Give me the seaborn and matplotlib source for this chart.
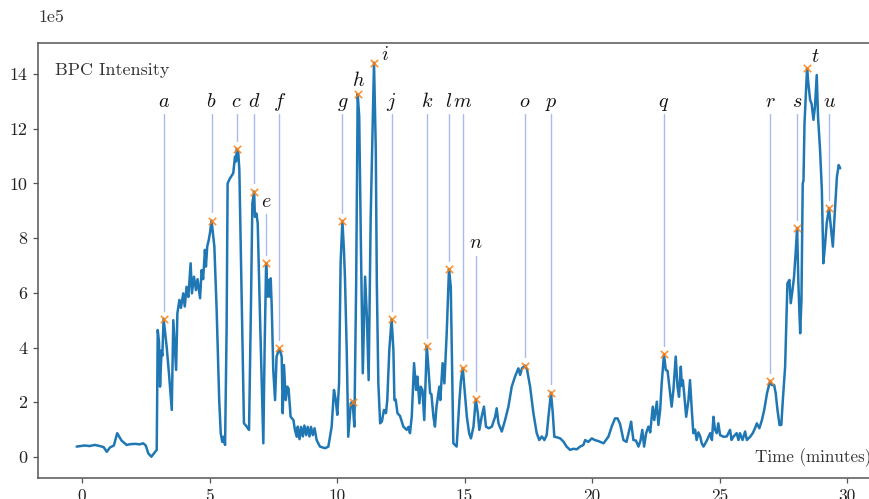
import matplotlib
matplotlib.use("Agg")
import matplotlib.pyplot as plt
import matplotlib.transforms as mtransforms
from matplotlib.ticker import ScalarFormatter
import numpy as np
import pandas as pd
import seaborn as sns

# Base peak chromatogram: retention time (minutes) and intensity (units of 1e5)
time_min = [
    -0.21, 0.10, 0.30, 0.50, 0.70, 0.85, 0.97, 1.10, 1.25, 1.38, 1.55, 1.75, 1.90, 2.10, 2.25,
    2.40, 2.50, 2.60, 2.72, 2.86, 2.93, 2.97, 3.02, 3.06, 3.12, 3.15, 3.20, 3.32, 3.42, 3.52,
    3.58, 3.69, 3.74, 3.82, 3.88, 3.97, 4.03, 4.10, 4.17, 4.26, 4.31, 4.39, 4.47, 4.53, 4.63,
    4.69, 4.75, 4.82, 4.86, 4.91, 4.97, 5.02, 5.08, 5.19, 5.28, 5.38, 5.44, 5.50, 5.55, 5.61,
    5.67, 5.71, 5.80, 5.88, 5.93, 6.00, 6.04, 6.07, 6.13, 6.17, 6.26, 6.35, 6.46, 6.55, 6.63,
    6.68, 6.75, 6.78, 6.84, 6.89, 6.98, 7.05, 7.11, 7.16, 7.22, 7.27, 7.32, 7.35, 7.40, 7.44,
    7.50, 7.57, 7.63, 7.74, 7.83, 7.87, 7.92, 7.99, 8.05, 8.10, 8.18, 8.29, 8.35, 8.42, 8.46,
    8.53, 8.59, 8.66, 8.72, 8.79, 8.85, 8.92, 8.98, 9.05, 9.12, 9.20, 9.33, 9.53, 9.66, 9.79,
    9.88, 9.95, 10.01, 10.08, 10.14, 10.21, 10.27, 10.31, 10.38, 10.44, 10.54, 10.61, 10.68, 10.75, 10.81,
    10.87, 10.93, 11.01, 11.10, 11.17, 11.24, 11.32, 11.45, 11.52, 11.56, 11.62, 11.69, 11.76, 11.84, 11.92,
    11.97, 12.05, 12.14, 12.21, 12.25, 12.30, 12.37, 12.47, 12.60, 12.73, 12.80, 12.86, 12.93, 13.02, 13.10,
    13.15, 13.23, 13.28, 13.35, 13.42, 13.52, 13.58, 13.65, 13.70, 13.78, 13.84, 13.90, 14.01, 14.05, 14.14,
    14.21, 14.30, 14.39, 14.46, 14.50, 14.56, 14.69, 14.80, 14.86, 14.93, 14.99, 15.09, 15.18, 15.25, 15.35,
    15.44, 15.52, 15.58, 15.67, 15.76, 15.84, 15.95, 16.07, 16.20, 16.26, 16.33, 16.46, 16.59, 16.72, 16.85,
    16.98, 17.11, 17.18, 17.25, 17.37, 17.45, 17.57, 17.70, 17.83, 17.93, 18.03, 18.13, 18.22, 18.29, 18.39,
    18.46, 18.52, 18.62, 18.75, 18.88, 19.00, 19.14, 19.27, 19.40, 19.53, 19.66, 19.73, 19.85, 19.99, 20.10,
    20.25, 20.45, 20.64, 20.77, 20.90, 21.00, 21.10, 21.23, 21.35, 21.49, 21.53, 21.62, 21.72, 21.82, 21.90,
    21.97, 22.04, 22.12, 22.21, 22.28, 22.38, 22.44, 22.54, 22.60, 22.67, 22.73, 22.82, 22.89, 22.96, 23.03,
    23.12, 23.19, 23.28, 23.35, 23.41, 23.48, 23.52, 23.56, 23.61, 23.69, 23.78, 23.84, 23.91, 23.97, 24.04,
    24.10, 24.17, 24.24, 24.30, 24.37, 24.50, 24.63, 24.70, 24.76, 24.82, 24.89, 24.95, 25.02, 25.15, 25.28,
    25.41, 25.47, 25.54, 25.67, 25.74, 25.80, 25.90, 26.00, 26.07, 26.20, 26.30, 26.39, 26.46, 26.56, 26.66,
    26.75, 26.86, 26.98, 27.05, 27.14, 27.20, 27.27, 27.35, 27.42, 27.48, 27.57, 27.66, 27.74, 27.79, 27.86,
    27.92, 27.99, 28.04, 28.09, 28.16, 28.21, 28.26, 28.29, 28.33, 28.43, 28.48, 28.55, 28.61, 28.68, 28.74,
    28.81, 28.86, 28.94, 29.01, 29.07, 29.14, 29.20, 29.29, 29.36, 29.44, 29.53, 29.60, 29.67, 29.73,
]
intensity_1e5 = [
    0.38, 0.42, 0.40, 0.44, 0.40, 0.36, 0.19, 0.35, 0.42, 0.87, 0.60, 0.44, 0.47, 0.48, 0.46,
    0.50, 0.42, 0.13, 0.01, 0.18, 0.26, 4.64, 4.20, 2.57, 3.90, 3.70, 5.05, 4.03, 2.94, 1.72,
    5.00, 3.18, 5.25, 5.74, 5.45, 5.98, 5.50, 6.22, 5.85, 7.08, 5.98, 6.59, 6.10, 6.50, 5.80,
    6.83, 6.50, 7.57, 6.96, 7.69, 7.93, 8.20, 8.64, 7.69, 5.37, 2.08, 0.87, 0.55, 0.74, 0.44,
    4.64, 10.00, 10.18, 10.30, 10.37, 10.98, 10.80, 11.26, 11.10, 10.49, 5.86, 1.23, 1.11, 0.99, 5.86,
    9.27, 9.70, 8.78, 8.90, 8.54, 5.13, 2.69, 0.50, 3.91, 7.08, 5.86, 6.47, 5.86, 6.53, 5.49,
    3.18, 2.08, 3.67, 3.97, 3.67, 1.60, 3.36, 2.08, 2.57, 2.50, 1.47, 1.35, 0.99, 0.74, 1.11,
    0.65, 1.10, 0.75, 1.15, 0.80, 1.10, 0.75, 1.10, 0.80, 1.05, 0.62, 0.38, 0.32, 0.38, 1.11,
    2.45, 2.08, 1.54, 2.69, 7.08, 8.63, 7.57, 6.59, 3.91, 0.74, 1.96, 2.02, 1.11, 6.35, 13.26,
    12.44, 8.18, 3.06, 6.59, 5.13, 2.81, 8.78, 14.41, 11.22, 6.35, 2.69, 1.23, 1.30, 1.72, 1.60,
    2.08, 3.91, 5.04, 3.91, 2.08, 2.10, 1.60, 1.50, 1.11, 0.99, 1.10, 0.87, 1.47, 3.43, 2.45,
    2.94, 1.96, 2.57, 2.45, 1.35, 4.06, 3.30, 2.33, 2.30, 1.47, 1.11, 1.84, 2.57, 2.08, 3.43,
    2.69, 4.52, 6.87, 6.22, 3.91, 0.50, 0.38, 2.08, 2.81, 3.25, 2.57, 1.47, 0.87, 0.68, 1.11,
    2.12, 1.60, 0.99, 1.47, 1.84, 1.11, 1.05, 1.11, 1.47, 1.78, 1.23, 0.93, 1.35, 1.84, 2.57,
    2.94, 3.24, 3.00, 3.24, 3.34, 3.20, 2.57, 1.60, 0.87, 0.62, 0.75, 0.62, 0.80, 1.47, 2.35,
    1.60, 0.74, 0.72, 0.68, 0.56, 0.38, 0.26, 0.30, 0.28, 0.38, 0.44, 0.62, 0.55, 0.68, 0.62,
    0.58, 0.50, 0.74, 1.11, 1.41, 1.41, 1.20, 0.62, 0.55, 1.11, 1.29, 0.62, 0.60, 0.38, 0.60,
    0.99, 0.38, 0.87, 1.11, 0.90, 1.84, 1.35, 2.02, 1.17, 1.72, 2.69, 3.75, 3.18, 3.15, 2.57,
    1.84, 2.45, 3.67, 2.57, 2.20, 3.30, 2.60, 2.81, 2.33, 1.47, 2.08, 2.81, 1.72, 0.87, 1.00,
    0.62, 0.90, 0.75, 0.50, 0.38, 0.60, 0.87, 0.62, 1.47, 1.00, 0.87, 1.23, 0.80, 0.74, 0.75,
    0.99, 0.62, 0.74, 0.87, 0.62, 0.87, 0.62, 0.93, 0.62, 0.74, 0.87, 1.05, 1.23, 1.05, 1.35,
    1.72, 2.33, 2.78, 2.63, 2.63, 2.33, 1.72, 1.17, 1.17, 2.08, 3.30, 6.35, 6.47, 5.62, 6.10,
    6.59, 7.57, 8.37, 6.35, 4.52, 5.74, 10.00, 10.10, 12.20, 14.20, 13.66, 13.05, 12.90, 12.32, 12.80,
    13.96, 12.44, 11.22, 9.76, 7.08, 7.81, 8.54, 9.09, 8.42, 7.69, 9.15, 10.24, 10.67, 10.55,
]

# Detected peaks (the one at 10.61 min carries no letter)
peak_times = [3.20, 5.08, 6.07, 6.75, 7.22, 7.74, 10.21, 10.61, 10.81, 11.45, 12.14, 13.52,
              14.39, 14.93, 15.44, 17.37, 18.39, 22.82, 26.98, 28.04, 28.43, 29.29]
peak_heights = [5.05, 8.64, 11.26, 9.70, 7.08, 3.97, 8.63, 2.02, 13.26, 14.41, 5.04, 4.06,
                6.87, 3.25, 2.12, 3.34, 2.35, 3.75, 2.78, 8.37, 14.20, 9.09]
peak_letters = ["a", "b", "c", "d", "e", "f", "g", "", "h", "i", "j", "k",
                "l", "m", "n", "o", "p", "q", "r", "s", "t", "u"]

SCALE = 1e5
trace = pd.DataFrame({"Time": time_min, "Intensity": np.array(intensity_1e5) * SCALE})
peaks = pd.DataFrame({"Time": peak_times, "Intensity": np.array(peak_heights) * SCALE,
                      "Letter": peak_letters})

sns.set_theme(style="ticks")
plt.rcParams.update({
    "font.family": "serif",
    "font.serif": ["cmr10", "DejaVu Serif"],
    "mathtext.fontset": "cm",
    "axes.formatter.use_mathtext": False,
    "axes.unicode_minus": False,
    "axes.edgecolor": "#555555",
    "axes.linewidth": 1.1,
    "xtick.color": "#555555",
    "ytick.color": "#555555",
    "xtick.labelcolor": "#222222",
    "ytick.labelcolor": "#222222",
    "xtick.labelsize": 12.5,
    "ytick.labelsize": 13,
    "xtick.major.size": 3.5,
    "ytick.major.size": 3.5,
    "xtick.major.width": 0.9,
    "ytick.major.width": 0.9,
})

fig = plt.figure(figsize=(8.7, 4.99), dpi=100)
ax = fig.add_axes([38 / 870, 21 / 499, 842 / 870, 435 / 499])

sns.lineplot(data=trace, x="Time", y="Intensity", ax=ax, color="#1f77b4",
             linewidth=1.8, estimator=None, sort=False)
sns.scatterplot(data=peaks, x="Time", y="Intensity", ax=ax, marker="x",
                color="#ff7f0e", s=28, linewidth=1.2, alpha=0.85, zorder=4)

# Letter labels with leader lines down to their peaks
default_base = 12.8
label_base = {"e": 9.15, "n": 7.62, "h": 13.56, "i": 14.5, "t": 14.44}
label_dx = {"h": 0.05, "i": 0.43, "t": 0.33}
no_leader = {"h", "i", "t"}
for t, h, letter in zip(peak_times, peak_heights, peak_letters):
    if not letter:
        continue
    base = label_base.get(letter, default_base)
    ax.text(t + label_dx.get(letter, 0.0), base * SCALE, f"${letter}$",
            ha="center", va="baseline", fontsize=14.5, color="#111111")
    if letter not in no_leader:
        ax.plot([t, t], [(base - 0.27) * SCALE, (h + 0.3) * SCALE],
                color="royalblue", alpha=0.45, linewidth=1.0, zorder=1)

ax.text(-1.06, 13.96 * SCALE, "BPC Intensity", fontsize=13, color="#333333",
        ha="left", va="baseline")
ax.text(26.38, -0.2 * SCALE, "Time (minutes)", fontsize=12.2, color="#333333",
        ha="left", va="baseline")

ax.set_xlim(-1.725, 31.29)
ax.set_ylim(-0.768 * SCALE, 15.13 * SCALE)
ax.set_xticks([0, 5, 10, 15, 20, 25, 30])
ax.set_yticks(np.arange(0, 15, 2) * SCALE)

fmt = ScalarFormatter(useMathText=False)
fmt.set_powerlimits((5, 5))
ax.yaxis.set_major_formatter(fmt)

ax.set_xlabel("")
ax.set_ylabel("")
ax.tick_params(axis="x", pad=4)
ax.tick_params(axis="y", pad=4)
ax.spines["right"].set_visible(False)

off = ax.yaxis.get_offset_text()
off.set_fontsize(13)
off.set_color("#333333")
off.set_transform(off.get_transform() +
                  mtransforms.ScaledTranslation(0, 12 / 72, fig.dpi_scale_trans))

fig.savefig("out.png", dpi=100)
